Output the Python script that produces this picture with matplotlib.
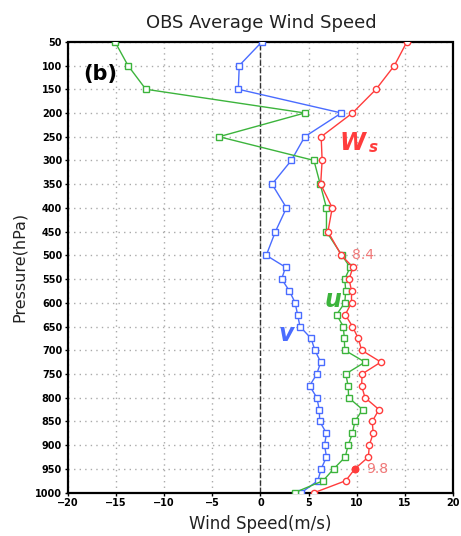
import matplotlib
matplotlib.use("Agg")
import matplotlib.pyplot as plt
import numpy as np

# ---- data ----
pressure = [50, 100, 150, 200, 250, 300, 350, 400, 450, 500,
            525, 550, 575, 600, 625, 650, 675, 700, 725, 750,
            775, 800, 825, 850, 875, 900, 925, 950, 975, 1000]
u_wind = [-15.1, -13.75, -11.9, 4.6, -4.3, 5.55, 6.2, 6.85, 6.85, 8.45,
          9.3, 8.75, 8.85, 8.75, 7.9, 8.6, 8.7, 8.75, 10.85, 8.85,
          9.1, 9.15, 10.6, 9.8, 9.55, 9.1, 8.8, 7.6, 6.5, 3.55]
v_wind = [0.15, -2.2, -2.3, 8.4, 4.6, 3.2, 1.2, 2.7, 1.55, 0.6,
          2.6, 2.2, 3.0, 3.6, 3.85, 4.1, 5.25, 5.65, 6.25, 5.85,
          5.1, 5.85, 6.1, 6.15, 6.85, 6.65, 6.85, 6.3, 5.95, 4.25]
ws = [15.2, 13.9, 12.0, 9.55, 6.3, 6.4, 6.25, 7.45, 7.0, 8.4,
      9.6, 9.2, 9.45, 9.45, 8.8, 9.55, 10.15, 10.5, 12.5, 10.55,
      10.5, 10.85, 12.3, 11.6, 11.7, 11.3, 11.2, 9.8, 8.85, 5.6]
xticks = [-20, -15, -10, -5, 0, 5, 10, 15, 20]
yticks = list(range(50, 1001, 50))
title = "OBS Average Wind Speed"

GREEN = "#3cb43c"
BLUE = "#4a6cff"
RED = "#ff3c3c"
PINK = "#f07878"

fig = plt.figure(figsize=(4.61, 5.36), dpi=100)
ax = fig.add_axes([0.147, 0.081, 0.836, 0.841])

ax.set_xlim(-20, 20)
ax.set_ylim(1000, 50)
ax.set_xticks(xticks)
ax.set_yticks(yticks)
ax.set_xticklabels([f"{t}".replace("-", "\u2212") for t in xticks],
                   fontsize=7, fontweight="bold")
ax.set_yticklabels([str(t) for t in yticks], fontsize=7, fontweight="bold")
ax.tick_params(direction="out", length=2.5, width=1, pad=1.5)

ax.grid(True, color="#aaaaaa", linestyle=(0, (1, 3)), linewidth=1)
ax.set_axisbelow(True)
ax.axvline(0, color="#333333", linestyle=(0, (4, 1.5)), linewidth=1, zorder=1.5)

for sp in ax.spines.values():
    sp.set_linestyle((0, (2.5, 1)))
    sp.set_linewidth(1.6)
    sp.set_color("black")

ax.plot(v_wind, pressure, color=BLUE, lw=1, marker="s", ms=4.2,
        mfc="white", mec=BLUE, mew=1, zorder=3)
ax.plot(u_wind, pressure, color=GREEN, lw=1, marker="s", ms=4.2,
        mfc="white", mec=GREEN, mew=1, zorder=4)
ax.plot(ws, pressure, color=RED, lw=1, marker="o", ms=4.5,
        mfc="white", mec=RED, mew=1, zorder=5)
i950 = pressure.index(950)
ax.plot([ws[i950]], [pressure[i950]], marker="o", ms=4.5, color=RED, zorder=6)

ax.text(9.5, 500, "8.4", color=PINK, fontsize=10, va="center", ha="left")
ax.text(11.0, 950, "9.8", color=PINK, fontsize=10, va="center", ha="left")

ax.text(-18.4, 118, "(b)", fontsize=15, fontweight="bold", va="center", ha="left")
ax.text(8.2, 263, "W", color=RED, fontsize=17, fontweight="bold",
        fontstyle="italic", va="center", ha="left")
ax.text(11.3, 272, "s", color=RED, fontsize=11, fontweight="bold",
        fontstyle="italic", va="center", ha="left")
ax.text(7.5, 594, "u", color=GREEN, fontsize=17, fontweight="bold",
        fontstyle="italic", va="center", ha="center")
ax.text(2.7, 665, "v", color=BLUE, fontsize=17, fontweight="bold",
        fontstyle="italic", va="center", ha="center")

fig.text(0.566, 0.957, title, fontsize=13, ha="center", va="center", color="#222222")
ax.set_xlabel("Wind Speed(m/s)", fontsize=12, labelpad=5, color="#222222")
ax.set_ylabel("Pressure(hPa)", fontsize=11.5, labelpad=6, color="#222222")

fig.savefig("out.png", dpi=100)
